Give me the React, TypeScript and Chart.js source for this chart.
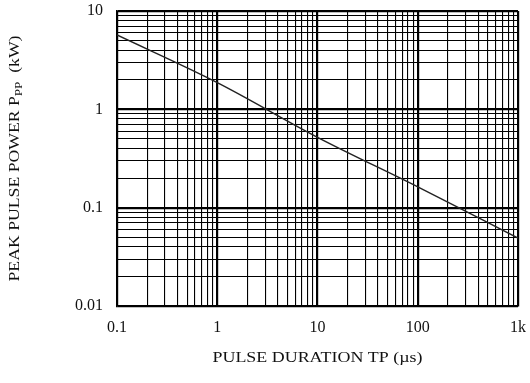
import React, { useEffect, useRef } from "react";
import { Chart, registerables } from "chart.js";

Chart.register(...registerables);

const durations = [0.1, 1, 10, 100, 1000];
const peakPower = [5.7, 1.87, 0.52, 0.163, 0.049];
const xTickLabels: Record<string, string> = { "0.1": "0.1", "1": "1", "10": "10", "100": "100", "1000": "1k" };
const yTickLabels: Record<string, string> = { "0.01": "0.01", "0.1": "0.1", "1": "1", "10": "10" };
const xTitle = "PULSE DURATION TP (\u00b5s)";
const yTitleMain = "PEAK PULSE POWER P";
const yTitleSub = "PP";
const yTitleUnit = "  (kW)";

const FONT = "'Liberation Serif', 'Times New Roman', serif";

function logTicks(minExp: number, maxExp: number) {
  const out: { value: number }[] = [];
  for (let e = minExp; e < maxExp; e++) {
    for (let m = 1; m < 10; m++) {
      out.push({ value: parseFloat((m * Math.pow(10, e)).toPrecision(6)) });
    }
  }
  out.push({ value: Math.pow(10, maxExp) });
  return out;
}

function isMajor(v: number) {
  const l = Math.log10(v);
  return Math.abs(l - Math.round(l)) < 1e-6;
}

const titlePlugin = {
  id: "axisTitles",
  afterDraw(chart: any) {
    const { ctx, chartArea } = chart;
    ctx.save();
    ctx.fillStyle = "#111";
    ctx.font = `15px ${FONT}`;
    ctx.textAlign = "center";
    ctx.textBaseline = "middle";
    const xw = ctx.measureText(xTitle).width;
    const sx = 210 / xw;
    ctx.save();
    ctx.translate((chartArea.left + chartArea.right) / 2, 358);
    ctx.scale(sx, 1);
    ctx.fillText(xTitle, 0, 0);
    ctx.restore();

    // Y title rotated with subscript
    ctx.translate(14, (chartArea.top + chartArea.bottom) / 2);
    ctx.rotate(-Math.PI / 2);
    ctx.font = `15px ${FONT}`;
    const w1 = ctx.measureText(yTitleMain).width;
    ctx.font = `11px ${FONT}`;
    const w2 = ctx.measureText(yTitleSub).width;
    ctx.font = `15px ${FONT}`;
    const w3 = ctx.measureText(yTitleUnit).width;
    const total = w1 + w2 + w3;
    const sy = 246 / total;
    ctx.scale(sy, 1);
    let x = -total / 2;
    ctx.textAlign = "left";
    ctx.textBaseline = "alphabetic";
    ctx.fillText(yTitleMain, x, 5);
    x += w1;
    ctx.font = `11px ${FONT}`;
    ctx.fillText(yTitleSub, x, 8);
    x += w2;
    ctx.font = `15px ${FONT}`;
    ctx.fillText(yTitleUnit, x, 5);
    ctx.restore();
  },
};

export default function App() {
  const ref = useRef<HTMLCanvasElement>(null);
  useEffect(() => {
    if (!ref.current) return;
    const chart = new Chart(ref.current, {
      type: "line",
      data: {
        datasets: [
          {
            data: durations.map((d, i) => ({ x: d, y: peakPower[i] })),
            borderColor: "#222",
            borderWidth: 1.4,
            pointRadius: 0,
            tension: 0.3,
            cubicInterpolationMode: "monotone",
          },
        ],
      },
      options: {
        responsive: false,
        animation: false,
        devicePixelRatio: 1,
        layout: { padding: { left: 0, top: 11, right: 12, bottom: 0 } },
        plugins: { legend: { display: false }, tooltip: { enabled: false } },
        scales: {
          x: {
            type: "logarithmic",
            min: 0.1,
            max: 1000,
            afterBuildTicks: (s: any) => {
              s.ticks = logTicks(-1, 3);
            },
            afterFit: (s: any) => {
              s.height = 77;
              s.paddingLeft = 0;
              s.paddingRight = 0;
            },
            grid: {
              color: "#000",
              lineWidth: (c: any) => (c.tick && isMajor(c.tick.value) ? 2.2 : 1.1),
              drawTicks: false,
            },
            border: { display: true, color: "#000", width: 1.5 },
            ticks: {
              autoSkip: false,
              maxRotation: 0,
              padding: 12,
              color: "#111",
              font: { family: FONT, size: 16 },
              callback: (v: any) => {
                const k = String(parseFloat(Number(v).toPrecision(6)));
                return xTickLabels[k] ?? "";
              },
            },
          },
          y: {
            type: "logarithmic",
            min: 0.01,
            max: 10,
            afterBuildTicks: (s: any) => {
              s.ticks = logTicks(-2, 1);
            },
            afterFit: (s: any) => {
              s.width = 117;
              s.paddingTop = 0;
              s.paddingBottom = 0;
            },
            grid: {
              color: "#000",
              lineWidth: (c: any) => (c.tick && isMajor(c.tick.value) ? 2.2 : 1.1),
              drawTicks: false,
            },
            border: { display: true, color: "#000", width: 1.5 },
            ticks: {
              autoSkip: false,
              padding: 14,
              color: "#111",
              font: { family: FONT, size: 16 },
              callback: (v: any) => {
                const k = String(parseFloat(Number(v).toPrecision(6)));
                return yTickLabels[k] ?? "";
              },
            },
          },
        },
      },
      plugins: [titlePlugin],
    } as any);
    return () => chart.destroy();
  }, []);
  return (
    <div style={{ position: "fixed", left: 0, top: 0, width: 530, height: 383, background: "#fff" }}>
      <canvas ref={ref} width={530} height={383} style={{ width: 530, height: 383 }} />
    </div>
  );
}
